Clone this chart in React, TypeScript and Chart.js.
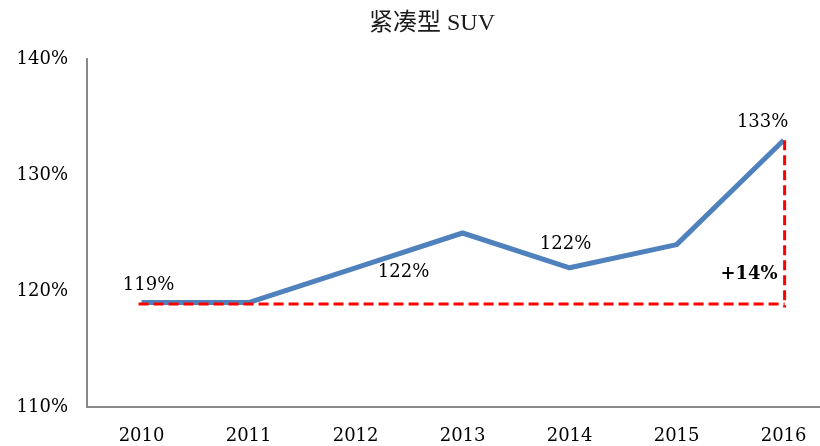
import React, { useEffect, useRef } from "react";
import { Chart, registerables } from "chart.js";

Chart.register(...registerables);

const title = "紧凑型 SUV";
const years = ["2010", "2011", "2012", "2013", "2014", "2015", "2016"];
const values = [119, 119, 122, 125, 122, 124, 133];
const labelledIndexes = [0, 2, 4, 6];
const yTicks = [110, 120, 130, 140];

// label offsets (px) relative to point: [dx, dy]
const labelOffsets: Record<number, [number, number]> = {
  0: [7, -17],
  2: [48, 5],
  4: [-4, -23],
  6: [-21, -18],
};

const serif = "'DejaVu Serif', serif";

export default function App() {
  const ref = useRef<HTMLCanvasElement | null>(null);

  useEffect(() => {
    if (!ref.current) return;
    const annot = {
      id: "annot",
      afterDraw(chart: any) {
        const { ctx } = chart;
        ctx.save();
        ctx.fillStyle = "#1a1a1a";
        ctx.font = "24px 'Liberation Serif', 'Noto Sans CJK SC', serif";
        ctx.textAlign = "center";
        ctx.textBaseline = "middle";
        ctx.fillText(title, 432, 24);
        ctx.restore();
      },
      afterDatasetsDraw(chart: any) {
        const { ctx } = chart;
        const xs = chart.scales.x;
        const ys = chart.scales.y;
        const base = values[0];
        const last = values.length - 1;
        const end = values[last];
        const x0 = xs.getPixelForValue(0);
        const x1 = xs.getPixelForValue(last);
        const yb = ys.getPixelForValue(base);
        const ye = ys.getPixelForValue(end);
        ctx.save();
        ctx.strokeStyle = "#FF0000";
        ctx.lineWidth = 3;
        ctx.setLineDash([10, 5]);
        ctx.beginPath();
        ctx.moveTo(x0 - 3, yb + 1.5);
        ctx.lineTo(x1 + 1, yb + 1.5);
        ctx.stroke();
        ctx.beginPath();
        ctx.moveTo(x1 + 1, ye);
        ctx.lineTo(x1 + 1, yb + 5);
        ctx.stroke();
        ctx.setLineDash([]);

        ctx.fillStyle = "#000000";
        ctx.font = "18px " + serif;
        ctx.textAlign = "center";
        ctx.textBaseline = "middle";
        labelledIndexes.forEach((i) => {
          const px = xs.getPixelForValue(i);
          const py = ys.getPixelForValue(values[i]);
          const [dx, dy] = labelOffsets[i] || [0, -18];
          ctx.fillText(values[i] + "%", px + dx, py + dy);
        });

        ctx.font = "bold 18px " + serif;
        ctx.textAlign = "right";
        const diff = end - base;
        ctx.fillText("+" + diff + "%", x1 - 6, ys.getPixelForValue(base + 2.45));
        ctx.restore();
      },
    };

    const chart = new Chart(ref.current, {
      type: "line",
      data: {
        datasets: [
          {
            data: values.map((v, i) => ({ x: i, y: v })),
            borderColor: "#4F81BD",
            borderWidth: 5,
            pointRadius: 0,
            tension: 0,
            borderJoinStyle: "round",
            borderCapStyle: "butt",
            fill: false,
          },
        ],
      },
      options: {
        responsive: false,
        animation: false,
        layout: { padding: { top: 59, left: 0, right: 0, bottom: 0 } },
        plugins: {
          legend: { display: false },
          tooltip: { enabled: false },
          title: { display: false },
        },
        scales: {
          x: {
            type: "linear",
            min: -0.51,
            max: 6.34,
            grid: { display: false, drawTicks: false },
            border: { display: true, color: "#898989", width: 2 },
            ticks: {
              stepSize: 1,
              includeBounds: false,
              autoSkip: false,
              maxRotation: 0,
              padding: 19,
              color: "#000000",
              font: { family: serif, size: 18 },
              callback: (v: any) => years[v] ?? "",
            },
            afterFit: (s: any) => {
              s.height = 39;
              s.paddingLeft = 0;
              s.paddingRight = 0;
            },
          },
          y: {
            min: 110,
            max: 140,
            grid: { display: false, drawTicks: false },
            border: { display: true, color: "#898989", width: 2 },
            ticks: {
              stepSize: 10,
              padding: 19,
              color: "#000000",
              font: { family: serif, size: 18 },
              callback: (v: any) => (yTicks.includes(v) ? v + "%" : ""),
            },
            afterFit: (s: any) => {
              s.width = 87;
            },
          },
        },
      },
      plugins: [annot],
    } as any);
    return () => chart.destroy();
  }, []);

  return (
    <div style={{ position: "absolute", left: 0, top: 0, width: 820, height: 446, background: "#fff" }}>
      <canvas ref={ref} width={820} height={446} style={{ display: "block" }} />
    </div>
  );
}
